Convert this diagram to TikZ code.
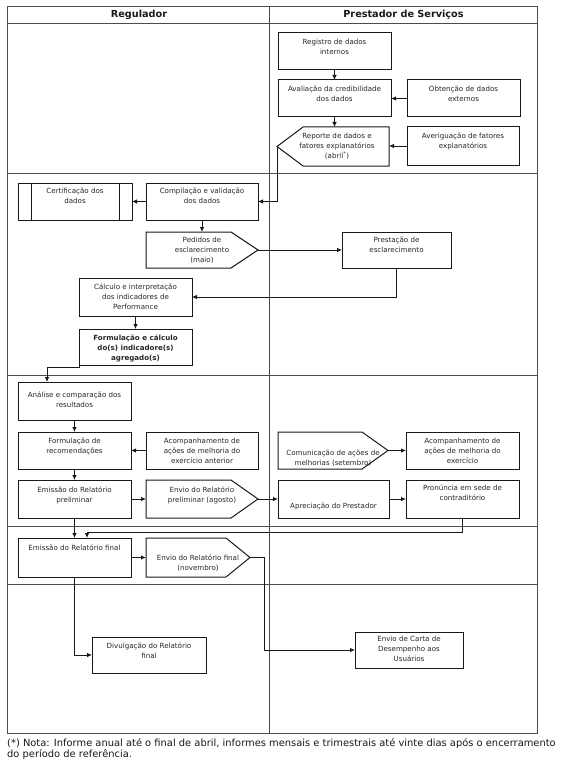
\documentclass[tikz,border=0pt]{standalone}
\usepackage{fontspec}
\setmainfont{DejaVu Sans}
\usetikzlibrary{arrows.meta}
\newcommand{\boxat}[5]{\node[box, minimum width={#3-#2}, minimum height={#5-#4}] (#1) at ({(#2+#3)/2},{(#4+#5)/2}) {};}
\newcommand{\penR}[6]{\node[ghost, minimum width={#3-#2}, minimum height={#5-#4}] (#1) at ({(#2+#3)/2},{(#4+#5)/2}) {};
  \draw[boxline] (#1.north west) -- ([xshift=-#6pt]#1.north east) -- (#1.east) -- ([xshift=-#6pt]#1.south east) -- (#1.south west) -- cycle;}
\newcommand{\penL}[6]{\node[ghost, minimum width={#3-#2}, minimum height={#5-#4}] (#1) at ({(#2+#3)/2},{(#4+#5)/2}) {};
  \draw[boxline] (#1.west) -- ([xshift=#6pt]#1.north west) -- (#1.north east) -- (#1.south east) -- ([xshift=#6pt]#1.south west) -- cycle;}
\begin{document}
\begin{tikzpicture}[x=1pt,y=-1pt,
  frame/.style={draw=black!70, line width=0.6pt},
  box/.style={draw=black!90, line width=1pt, inner sep=0pt, outer sep=0pt},
  ghost/.style={inner sep=0pt, outer sep=0pt},
  boxline/.style={draw=black!90, line width=1pt, line join=miter},
  tt/.style={font=\fontsize{7.1}{10}\selectfont, align=center, inner sep=0pt, anchor=north, text=black!85, execute at begin node=\strut},
  hd/.style={font=\fontsize{9.7}{11}\selectfont\bfseries, inner sep=0pt, text=black!90},
  nt/.style={font=\fontsize{9.9}{11}\selectfont, inner sep=0pt, anchor=base west, text=black!90},
  arr/.style={draw=black!90, line width=0.8pt, -{Latex[length=5pt,width=4.5pt]}},
]
\useasboundingbox (0,0) rectangle (564,765);
% table
\draw[frame] (7,6) rectangle (537,733);
\draw[frame] (7,23) -- (537,23);
\draw[frame] (269,6) -- (269,733);
\draw[frame] (7,173) -- (537,173);
\draw[frame] (7,375) -- (537,375);
\draw[frame] (7,526) -- (537,526);
\draw[frame] (7,584) -- (537,584);
\node[hd] (hreg) at (139,15) {Regulador};
\node[hd] (hpre) at (403.5,15) {Prestador de Serviços};
% boxes
\boxat{reg}{278}{391}{33}{70}
\boxat{aval}{278}{391}{80}{117}
\boxat{obt}{407}{520}{80}{117}
\penL{rep}{277}{389}{127}{166}{26}
\boxat{aver}{407}{519}{127}{165}
\boxat{cert}{18}{132}{183}{220}
\draw[boxline] ([xshift=13pt]cert.north west) -- ([xshift=13pt]cert.south west);
\draw[boxline] ([xshift=-13pt]cert.north east) -- ([xshift=-13pt]cert.south east);
\boxat{comp}{146}{258}{183}{220}
\penR{ped}{146}{258}{232}{268}{27}
\boxat{prest}{342}{451}{232}{268}
\boxat{calc}{79}{192}{278}{316}
\boxat{form}{79}{192}{329}{365}
\boxat{anal}{18}{131}{382}{420}
\boxat{frec}{18}{131}{432}{469}
\boxat{acant}{146}{258}{432}{469}
\penR{comu}{278}{388}{432}{469}{26}
\boxat{acex}{406}{519}{432}{469}
\boxat{emp}{18}{131}{480}{518}
\penR{envp}{146}{258}{480}{518}{27}
\boxat{apre}{278}{389}{480}{518}
\boxat{pron}{406}{519}{480}{518}
\boxat{emf}{18}{131}{538}{577}
\penR{envf}{146}{250}{538}{577}{24}
\boxat{div}{92}{206}{637}{673}
\boxat{carta}{355}{463}{632}{668}
% texts
\node[tt] (reg-t) at ([yshift=-5.5pt]reg.north) {Registro de dados\\internos};
\node[tt] (aval-t) at ([yshift=-5.5pt]aval.north) {Avaliação da credibilidade\\dos dados};
\node[tt] (obt-t) at ([yshift=-5.5pt]obt.north) {Obtenção de dados\\externos};
\node[tt] (rep-t) at ([yshift=-5.5pt,xshift=4pt]rep.north) {Reporte de dados e\\fatores explanatórios\\(abril\textsuperscript{*})};
\node[tt] (aver-t) at ([yshift=-5.5pt]aver.north) {Averiguação de fatores\\explanatórios};
\node[tt] (cert-t) at ([yshift=-4.5pt]cert.north) {Certificação dos\\dados};
\node[tt] (comp-t) at ([yshift=-4.5pt]comp.north) {Compilação e validação\\dos dados};
\node[tt] (ped-t) at ([yshift=-4.5pt]ped.north) {Pedidos de\\esclarecimento\\(maio)};
\node[tt] (prest-t) at ([yshift=-4.5pt]prest.north) {Prestação de\\esclarecimento};
\node[tt] (calc-t) at ([yshift=-5.5pt]calc.north) {Cálculo e interpretação\\dos indicadores de\\Performance};
\node[tt,font=\fontsize{7.1}{10}\selectfont\bfseries] (form-t) at ([yshift=-5.5pt]form.north) {Formulação e cálculo\\do(s) indicadore(s)\\agregado(s)};
\node[tt] (anal-t) at ([yshift=-9.5pt]anal.north) {Análise e comparação dos\\resultados};
\node[tt] (frec-t) at ([yshift=-5.5pt]frec.north) {Formulação de\\recomendações};
\node[tt] (acant-t) at ([yshift=-5.5pt]acant.north) {Acompanhamento de\\ações de melhoria do\\exercício anterior};
\node[tt] (comu-t) at ([yshift=-17.5pt]comu.north) {Comunicação de ações de\\melhorias (setembro)};
\node[tt] (acex-t) at ([yshift=-5.5pt]acex.north) {Acompanhamento de\\ações de melhoria do\\exercício};
\node[tt] (emp-t) at ([yshift=-6.5pt]emp.north) {Emissão do Relatório\\preliminar};
\node[tt] (envp-t) at ([yshift=-6.5pt]envp.north) {Envio do Relatório\\preliminar (agosto)};
\node[tt] (apre-t) at ([yshift=-21.5pt]apre.north) {Apreciação do Prestador};
\node[tt] (pron-t) at ([yshift=-4.5pt]pron.north) {Pronúncia em sede de\\contraditório};
\node[tt] (emf-t) at ([yshift=-5.5pt]emf.north) {Emissão do Relatório final};
\node[tt] (envf-t) at ([yshift=-16.5pt]envf.north) {Envio do Relatório final\\(novembro)};
\node[tt] (div-t) at ([yshift=-5.5pt]div.north) {Divulgação do Relatório\\final};
\node[tt] (carta-t) at ([yshift=-3.5pt]carta.north) {Envio de Carta de\\Desempenho aos\\Usuários};
% connectors
\draw[arr] (reg.south) -- (reg.south |- aval.north);
\draw[arr] (obt.west) -- (obt.west -| aval.east);
\draw[arr] (aval.south) -- (aval.south |- rep.north);
\draw[arr] (aver.west) -- (aver.west -| rep.east);
\draw[arr] (rep.west) |- (comp.east);
\draw[arr] (comp.west) -- (comp.west -| cert.east);
\draw[arr] (comp.south) -- (comp.south |- ped.north);
\draw[arr] (ped.east) -- (ped.east -| prest.west);
\draw[arr] (prest.south) |- (calc.east);
\draw[arr] (calc.south) -- (calc.south |- form.north);
\coordinate (fa) at (47,367);
\draw[arr] (form.south west) |- (fa) -- (fa |- anal.north);
\draw[arr] (anal.south) -- (anal.south |- frec.north);
\draw[arr] (acant.west) -- (acant.west -| frec.east);
\draw[arr] (frec.south) -- (frec.south |- emp.north);
\draw[arr] (comu.east) -- (comu.east -| acex.west);
\draw[arr] (emp.east) -- (emp.east -| envp.west);
\draw[arr] (envp.east) -- (envp.east -| apre.west);
\draw[arr] (apre.east) -- (apre.east -| pron.west);
\draw[arr] (emp.south) -- (emp.south |- emf.north);
\coordinate (pe) at (87,532);
\draw[arr] (pron.south) |- (pe) -- (pe |- emf.north);
\draw[arr] (emf.east) -- (emf.east -| envf.west);
\coordinate (ec) at (264,557.5);
\draw[arr] (envf.east) -- (ec) |- (carta.west);
\draw[arr] (emf.south) |- (div.west);
% note
\node[nt] (note1) at (7,746) {(*) Nota: Informe anual até o final de abril, informes mensais e trimestrais até vinte dias após o encerramento};
\node[nt] (note2) at (7,757) {do período de referência.};
\end{tikzpicture}
\end{document}
